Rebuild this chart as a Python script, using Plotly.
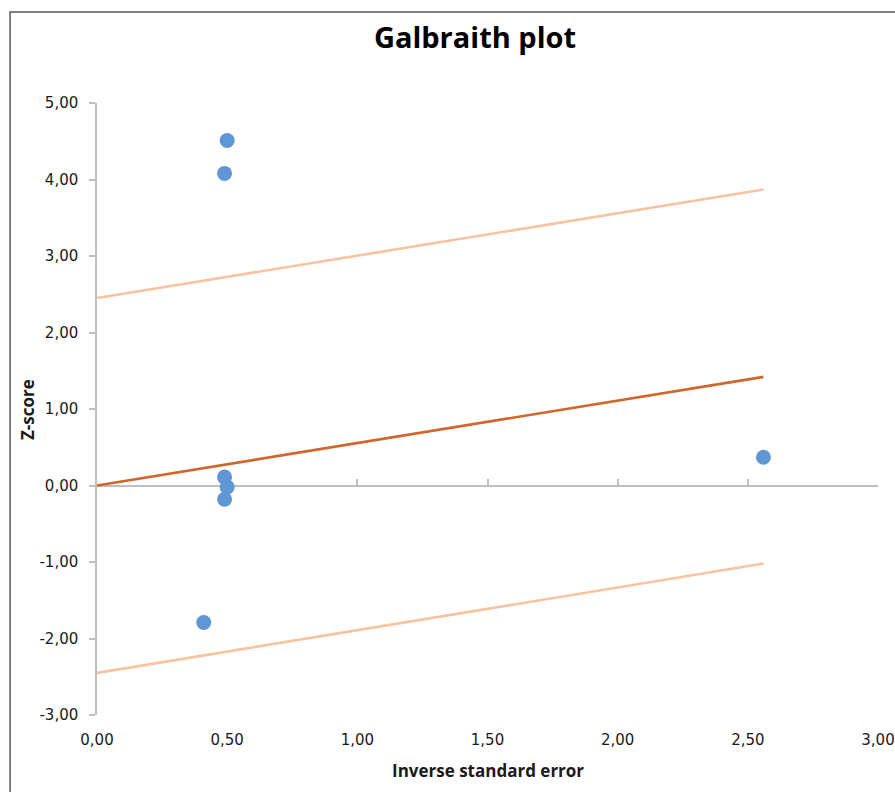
import plotly.graph_objects as go

# ---- data ----
inv_se = [0.50, 0.49, 0.49, 0.50, 0.49, 0.41, 2.56]
z_score = [4.51, 4.08, 0.11, -0.02, -0.18, -1.79, 0.37]

line_x = [0.0, 2.56]
center_line = [0.0, 1.42]
upper_line = [2.45, 3.87]
lower_line = [-2.45, -1.02]

x_ticks = [0, 0.5, 1.0, 1.5, 2.0, 2.5, 3.0]
x_tick_labels = ["0,00", "0,50", "1,00", "1,50", "2,00", "2,50", "3,00"]
y_ticks = [-3, -2, -1, 0, 1, 2, 3, 4, 5]
y_tick_labels = ["-3,00", "-2,00", "-1,00", "0,00", "1,00", "2,00", "3,00", "4,00", "5,00"]

TICK_FONT = dict(family="DejaVu Sans", size=15, color="#1a1a1a")
LABEL_FONT = dict(family="Open Sans", size=17, color="#1a1a1a")
GRAY = "#BFBFBF"

fig = go.Figure()
fig.add_trace(go.Scatter(x=line_x, y=upper_line, mode="lines",
                         line=dict(color="#F8C3A0", width=2.6), hoverinfo="skip"))
fig.add_trace(go.Scatter(x=line_x, y=lower_line, mode="lines",
                         line=dict(color="#F8C3A0", width=2.6), hoverinfo="skip"))
fig.add_trace(go.Scatter(x=line_x, y=center_line, mode="lines",
                         line=dict(color="#D0662B", width=2.6), hoverinfo="skip"))
fig.add_trace(go.Scatter(x=inv_se, y=z_score, mode="markers",
                         marker=dict(color="#5F97D6", size=15, line=dict(width=0))))
# invisible trace for the bottom label axis
fig.add_trace(go.Scatter(x=[0], y=[0], xaxis="x2", yaxis="y", mode="markers",
                         marker=dict(opacity=0), hoverinfo="skip"))

fig.update_layout(
    width=895, height=792,
    margin=dict(l=97, r=16.5, t=103, b=77),
    paper_bgcolor="white", plot_bgcolor="white",
    showlegend=False,
    title=dict(text="<b>Galbraith plot</b>", x=475 / 895, xanchor="center",
               y=1 - 38 / 792, yanchor="middle", yref="container",
               font=dict(family="Open Sans", size=29, color="#000000")),
    # main x axis: ticks at y = 0 pointing up, no labels
    xaxis=dict(range=[0, 3], tickvals=x_ticks, anchor="free", position=0.375,
               side="bottom", showgrid=False, zeroline=False,
               showline=False, automargin=False, layer="below traces",
               ticks="inside", ticklen=7, tickcolor=GRAY, tickwidth=1.5,
               showticklabels=False),
    # label axis at the bottom
    xaxis2=dict(range=[0, 3], tickvals=x_ticks, ticktext=x_tick_labels,
                overlaying="x", anchor="y", side="bottom",
                showgrid=False, zeroline=False, showline=False, automargin=False,
                ticks="outside", ticklen=11, tickcolor="rgba(0,0,0,0)",
                tickfont=TICK_FONT),
    yaxis=dict(range=[-3, 5], tickvals=y_ticks, ticktext=y_tick_labels,
               showgrid=False, zeroline=True, zerolinecolor=GRAY, zerolinewidth=1.5,
               showline=True, automargin=False, layer="below traces",
               linecolor=GRAY, linewidth=1.5,
               ticks="outside", ticklen=6, tickcolor=GRAY, tickwidth=1.5,
               ticklabelstandoff=8, tickfont=TICK_FONT),
    annotations=[
        dict(text="<b>Z-score</b>", xref="paper", yref="paper",
             x=(27 - 97) / 781.5, y=(715 - 410) / 612, textangle=-90,
             showarrow=False, xanchor="center", yanchor="middle", font=LABEL_FONT),
        dict(text="<b>Inverse standard error</b>", xref="paper", yref="paper",
             x=(488 - 97) / 781.5, y=(715 - 771) / 612,
             showarrow=False, xanchor="center", yanchor="middle", font=LABEL_FONT),
    ],
    shapes=[
        dict(type="rect", xref="paper", yref="paper",
             x0=(10 - 97) / 781.5, x1=1.2, y0=-0.3, y1=1 + (103 - 12) / 612,
             line=dict(color="#595959", width=1.5), fillcolor="rgba(0,0,0,0)",
             layer="below"),
    ],
)

fig.write_html(
    "out.html",
    config={"displayModeBar": False},
    post_script="document.body.style.margin='0';document.body.style.overflow='hidden';",
)
